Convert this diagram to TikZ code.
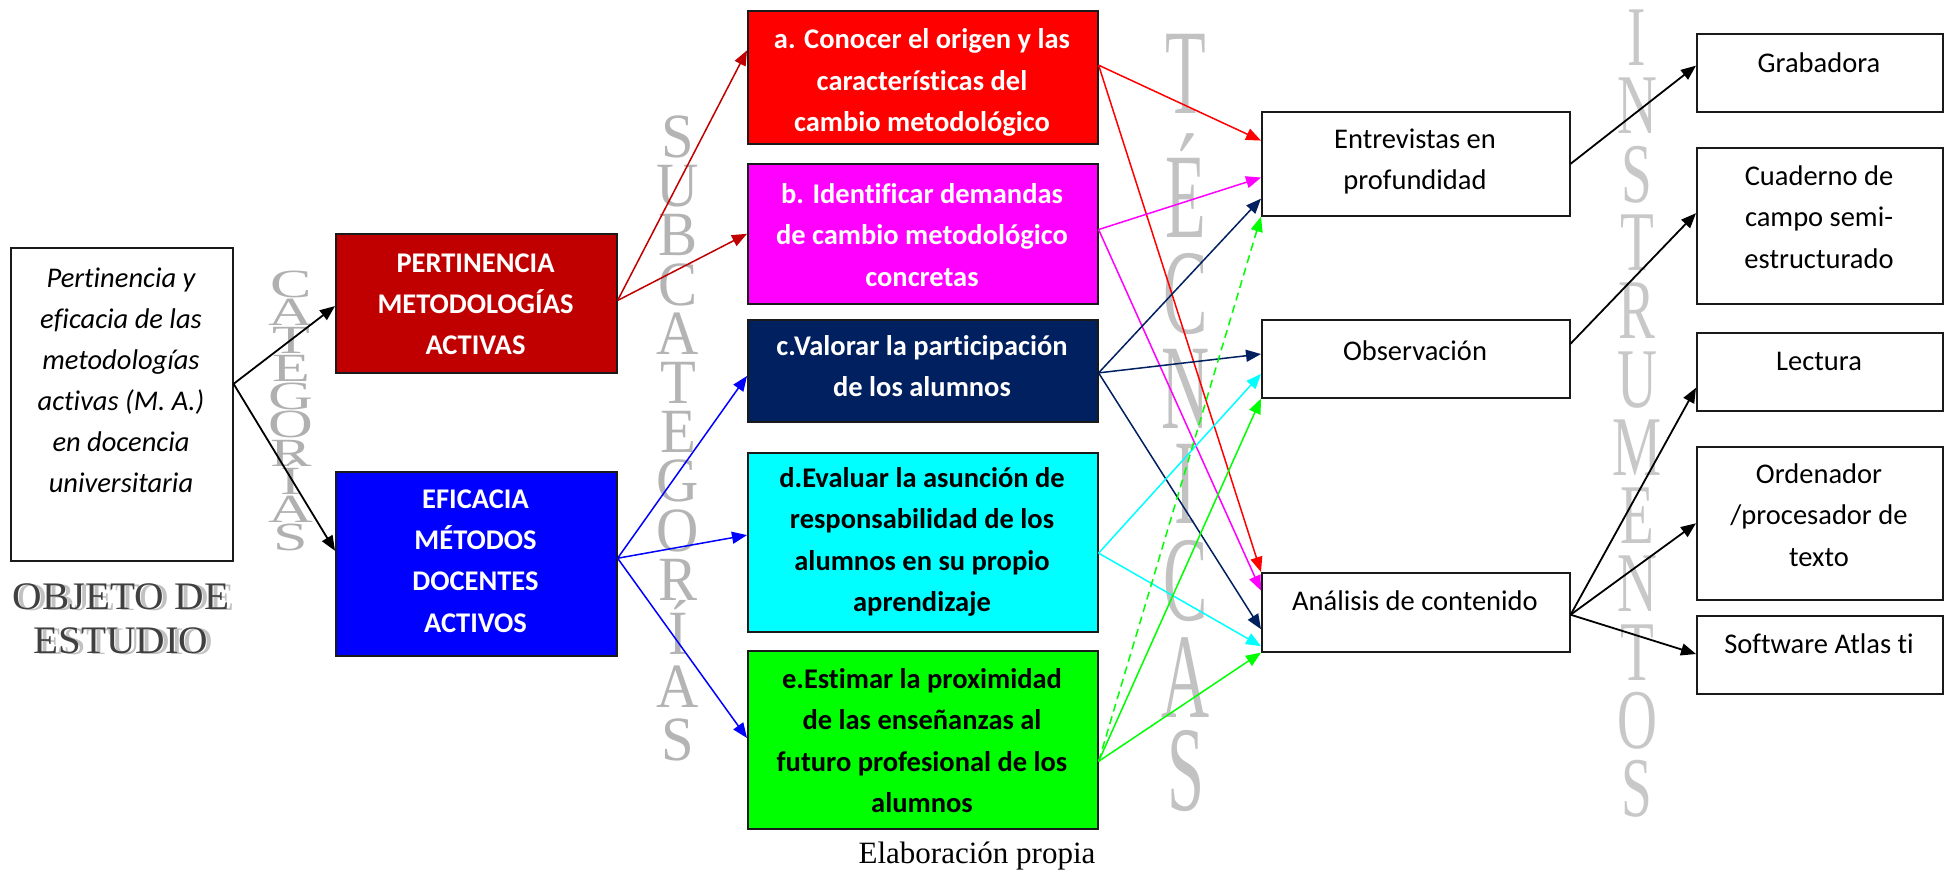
\documentclass[tikz,border=0pt]{standalone}
\usepackage{fontspec}
\usepackage{graphicx}
\setmainfont{Carlito}[Ligatures=NoCommon]
\newfontfamily\wmfont{Liberation Serif}
\usetikzlibrary{arrows.meta,calc}

\definecolor{catred}{HTML}{C00000}
\definecolor{catblue}{HTML}{0000FF}
\definecolor{subred}{HTML}{FF0000}
\definecolor{submag}{HTML}{FF00FF}
\definecolor{subnavy}{HTML}{002060}
\definecolor{subcyan}{HTML}{00FFFF}
\definecolor{subgreen}{HTML}{00FF00}
\definecolor{tecgray}{HTML}{C2C2C2}
\definecolor{subgray}{HTML}{B4B4B4}
\definecolor{insgray}{HTML}{C8C8C8}
\definecolor{catgray}{HTML}{B0B0B0}
\definecolor{shadowgray}{HTML}{A8A8A8}
\definecolor{edgeblack}{HTML}{1A1A1A}

% invisible strut fixing the height of the first text line
\newcommand{\firstln}{\rule{0pt}{24pt}}

\begin{document}
\begin{tikzpicture}[x=1pt,y=-1pt,
  box/.style={draw=edgeblack, line width=1.6pt, inner sep=0pt, anchor=north west},
  txt/.style={align=center, inner sep=0pt, anchor=north,
    font=\fontsize{28.5}{41.5}\selectfont},
  txtb/.style={txt, font=\fontsize{28.5}{41.5}\selectfont\bfseries},
  txtw/.style={txtb, text=white},
  blk/.style={draw=black, line width=1.8pt, -{Triangle[length=15pt,width=12pt]}},
  conn/.style={line width=1.5pt, -{Triangle[length=15pt,width=12pt]}},
  wmtec/.style={anchor=base, inner sep=0pt, text=tecgray, font=\wmfont\fontsize{121}{121}\selectfont},
  wmsub/.style={anchor=base, inner sep=0pt, text=subgray, font=\wmfont\fontsize{63}{63}\selectfont},
  wmins/.style={anchor=base, inner sep=0pt, text=insgray, font=\wmfont\fontsize{85}{85}\selectfont},
  wmcat/.style={anchor=base, inner sep=0pt, text=catgray, font=\wmfont\fontsize{40}{40}\selectfont},
  objlbl/.style={anchor=base, inner sep=0pt, text=black!75, font=\wmfont\fontsize{39}{39}\selectfont},
  objsh/.style={objlbl, text=shadowgray!70},
]

% canvas
\fill[white] (0,0) rectangle (1944,873);
\useasboundingbox (0,0) rectangle (1944,873);

% vertical column headings
\foreach \l/\yy [count=\i] in {C/297,A/325,T/353,E/381,G/409,O/437,R/466,Í/494,A/522,S/550}{
  \node[wmcat] (cat\i) at (291,\yy) {\scalebox{1.55}[1]{\l}};
}
\foreach \l/\yy [count=\i] in {S/157,U/206,B/255,C/305,A/354,T/403,E/452,G/501,O/551,R/600,Í/654,A/707,S/760}{
  \node[wmsub] (sub\i) at (678,\yy) {\scalebox{0.93}[1]{\l}};
}
\foreach \l/\yy [count=\i] in {T/113,É/237,C/333,N/428,I/523,C/620,A/717,S/810}{
  \node[wmtec] (tec\i) at (1186,\yy) {\scalebox{0.55}[1]{\l}};
}
\foreach \l/\yy [count=\i] in {I/65,N/133,S/202,T/270,R/338,U/407,M/475,E/543,N/611,T/680,O/748,S/816}{
  \node[wmins] (ins\i) at (1637,\yy) {\scalebox{0.65}[1]{\l}};
}

% object of study
\node[box, minimum width=222pt, minimum height=313pt] (obj) at (10,247) {};
\node[txt, font=\fontsize{28.5}{41}\selectfont\itshape] (objt) at (121,263)
  {\firstln Pertinencia y\\eficacia de las\\metodologías\\activas (M. A.)\\en docencia\\universitaria};
\node[objsh] (objsh1) at (126,610) {\scalebox{1.05}[1]{OBJETO DE}};
\node[objlbl] (objl1) at (121,609) {\scalebox{1.05}[1]{OBJETO DE}};
\node[objsh] (objsh2) at (126,654) {\scalebox{1.05}[1]{ESTUDIO}};
\node[objlbl] (objl2) at (121,653) {\scalebox{1.05}[1]{ESTUDIO}};

% categories
\node[box, fill=catred, minimum width=281pt, minimum height=139pt] (pert) at (335,233) {};
\node[txtw, font=\fontsize{28.5}{41}\selectfont\bfseries] (pertt) at (475.5,248)
  {\firstln PERTINENCIA\\METODOLOGÍAS\\ACTIVAS};
\node[box, fill=catblue, minimum width=281pt, minimum height=184pt] (efic) at (335,471) {};
\node[txtw, font=\fontsize{28.5}{41.3}\selectfont\bfseries] (efict) at (475.5,484)
  {\firstln EFICACIA\\MÉTODOS\\DOCENTES\\ACTIVOS};

% subcategories
\node[box, fill=subred, minimum width=350pt, minimum height=133pt] (suba) at (747,10) {};
\node[txtw] (subat) at (922,24.5)
  {\firstln a. Conocer el origen y las\\características del\\cambio metodológico};
\node[box, fill=submag, minimum width=350pt, minimum height=140pt] (subb) at (747,163) {};
\node[txtw] (subbt) at (922,179)
  {\firstln b. Identificar demandas\\de cambio metodológico\\concretas};
\node[box, fill=subnavy, minimum width=350pt, minimum height=102pt] (subc) at (747,319) {};
\node[txtw] (subct) at (922,331)
  {\firstln c.Valorar la participación\\de los alumnos};
\node[box, fill=subcyan, minimum width=350pt, minimum height=179pt] (subd) at (747,452) {};
\node[txtb] (subdt) at (922,463)
  {\firstln d.Evaluar la asunción de\\responsabilidad de los\\alumnos en su propio\\aprendizaje};
\node[box, fill=subgreen, minimum width=350pt, minimum height=178pt] (sube) at (747,650) {};
\node[txtb] (subet) at (922,664)
  {\firstln e.Estimar la proximidad\\de las enseñanzas al\\futuro profesional de los\\alumnos};

% techniques
\node[box, minimum width=308pt, minimum height=104pt] (entr) at (1261,111) {};
\node[txt] (entrt) at (1415,124) {\firstln Entrevistas en\\profundidad};
\node[box, minimum width=308pt, minimum height=78pt] (obs) at (1261,319) {};
\node[txt] (obst) at (1415,336) {\firstln Observación};
\node[box, minimum width=308pt, minimum height=79pt] (ana) at (1261,572) {};
\node[txt] (anat) at (1415,586) {\firstln Análisis de contenido};

% instruments
\node[box, minimum width=246pt, minimum height=78pt] (grab) at (1696,33) {};
\node[txt] (grabt) at (1819,48) {\firstln Grabadora};
\node[box, minimum width=246pt, minimum height=156pt] (cuad) at (1696,147) {};
\node[txt] (cuadt) at (1819,161) {\firstln Cuaderno de\\campo semi-\\estructurado};
\node[box, minimum width=246pt, minimum height=78pt] (lect) at (1696,332) {};
\node[txt] (lectt) at (1819,346) {\firstln Lectura};
\node[box, minimum width=246pt, minimum height=153pt] (orde) at (1696,446) {};
\node[txt] (ordet) at (1819,459) {\firstln Ordenador\\/procesador de\\texto};
\node[box, minimum width=246pt, minimum height=78pt] (soft) at (1696,615) {};
\node[txt] (softt) at (1819,629) {\firstln Software Atlas ti};

% source note
\node[anchor=base, inner sep=0pt, font=\wmfont\fontsize{31}{31}\selectfont] (src) at (977,863) {Elaboración propia};

% object -> categories
\draw[blk] ($(obj.north east)!0.435!(obj.south east)$) -- ($(pert.north west)!0.52!(pert.south west)$);
\draw[blk] ($(obj.north east)!0.435!(obj.south east)$) -- ($(efic.north west)!0.43!(efic.south west)$);

% categories -> subcategories
\draw[conn, catred] ($(pert.north east)!0.48!(pert.south east)$) -- ($(suba.north west)!0.30!(suba.south west)$);
\draw[conn, catred] ($(pert.north east)!0.48!(pert.south east)$) -- ($(subb.north west)!0.50!(subb.south west)$);
\draw[conn, catblue] ($(efic.north east)!0.47!(efic.south east)$) -- ($(subc.north west)!0.55!(subc.south west)$);
\draw[conn, catblue] ($(efic.north east)!0.47!(efic.south east)$) -- ($(subd.north west)!0.46!(subd.south west)$);
\draw[conn, catblue] ($(efic.north east)!0.47!(efic.south east)$) -- ($(sube.north west)!0.49!(sube.south west)$);

% subcategories -> techniques
\draw[conn, subred] ($(suba.north east)!0.41!(suba.south east)$) -- ($(entr.north west)!0.28!(entr.south west)$);
\draw[conn, subred] ($(suba.north east)!0.41!(suba.south east)$) -- (ana.north west);
\draw[conn, submag] ($(subb.north east)!0.47!(subb.south east)$) -- ($(entr.north west)!0.63!(entr.south west)$);
\draw[conn, submag] ($(subb.north east)!0.47!(subb.south east)$) -- ($(ana.north west)!0.23!(ana.south west)$);
\draw[conn, subnavy] ($(subc.north east)!0.52!(subc.south east)$) -- ($(entr.north west)!0.83!(entr.south west)$);
\draw[conn, subnavy] ($(subc.north east)!0.52!(subc.south east)$) -- ($(obs.north west)!0.44!(obs.south west)$);
\draw[conn, subnavy] ($(subc.north east)!0.52!(subc.south east)$) -- ($(ana.north west)!0.71!(ana.south west)$);
\draw[conn, subcyan] ($(subd.north east)!0.56!(subd.south east)$) -- ($(obs.north west)!0.69!(obs.south west)$);
\draw[conn, subcyan] ($(subd.north east)!0.56!(subd.south east)$) -- ($(ana.north west)!0.92!(ana.south west)$);
\draw[conn, subgreen, dash pattern=on 8pt off 5pt] ($(sube.north east)!0.62!(sube.south east)$) -- (entr.south west);
\draw[conn, subgreen] ($(sube.north east)!0.62!(sube.south east)$) -- (obs.south west);
\draw[conn, subgreen] ($(sube.north east)!0.62!(sube.south east)$) -- (ana.south west);

% techniques -> instruments
\draw[blk] (entr.east) -- ($(grab.north west)!0.41!(grab.south west)$);
\draw[blk] ($(obs.north east)!0.31!(obs.south east)$) -- ($(cuad.north west)!0.42!(cuad.south west)$);
\draw[blk] ($(ana.north east)!0.53!(ana.south east)$) -- ($(lect.north west)!0.70!(lect.south west)$);
\draw[blk] ($(ana.north east)!0.53!(ana.south east)$) -- ($(orde.north west)!0.50!(orde.south west)$);
\draw[blk] ($(ana.north east)!0.53!(ana.south east)$) -- ($(soft.north west)!0.49!(soft.south west)$);

\end{tikzpicture}
\end{document}
